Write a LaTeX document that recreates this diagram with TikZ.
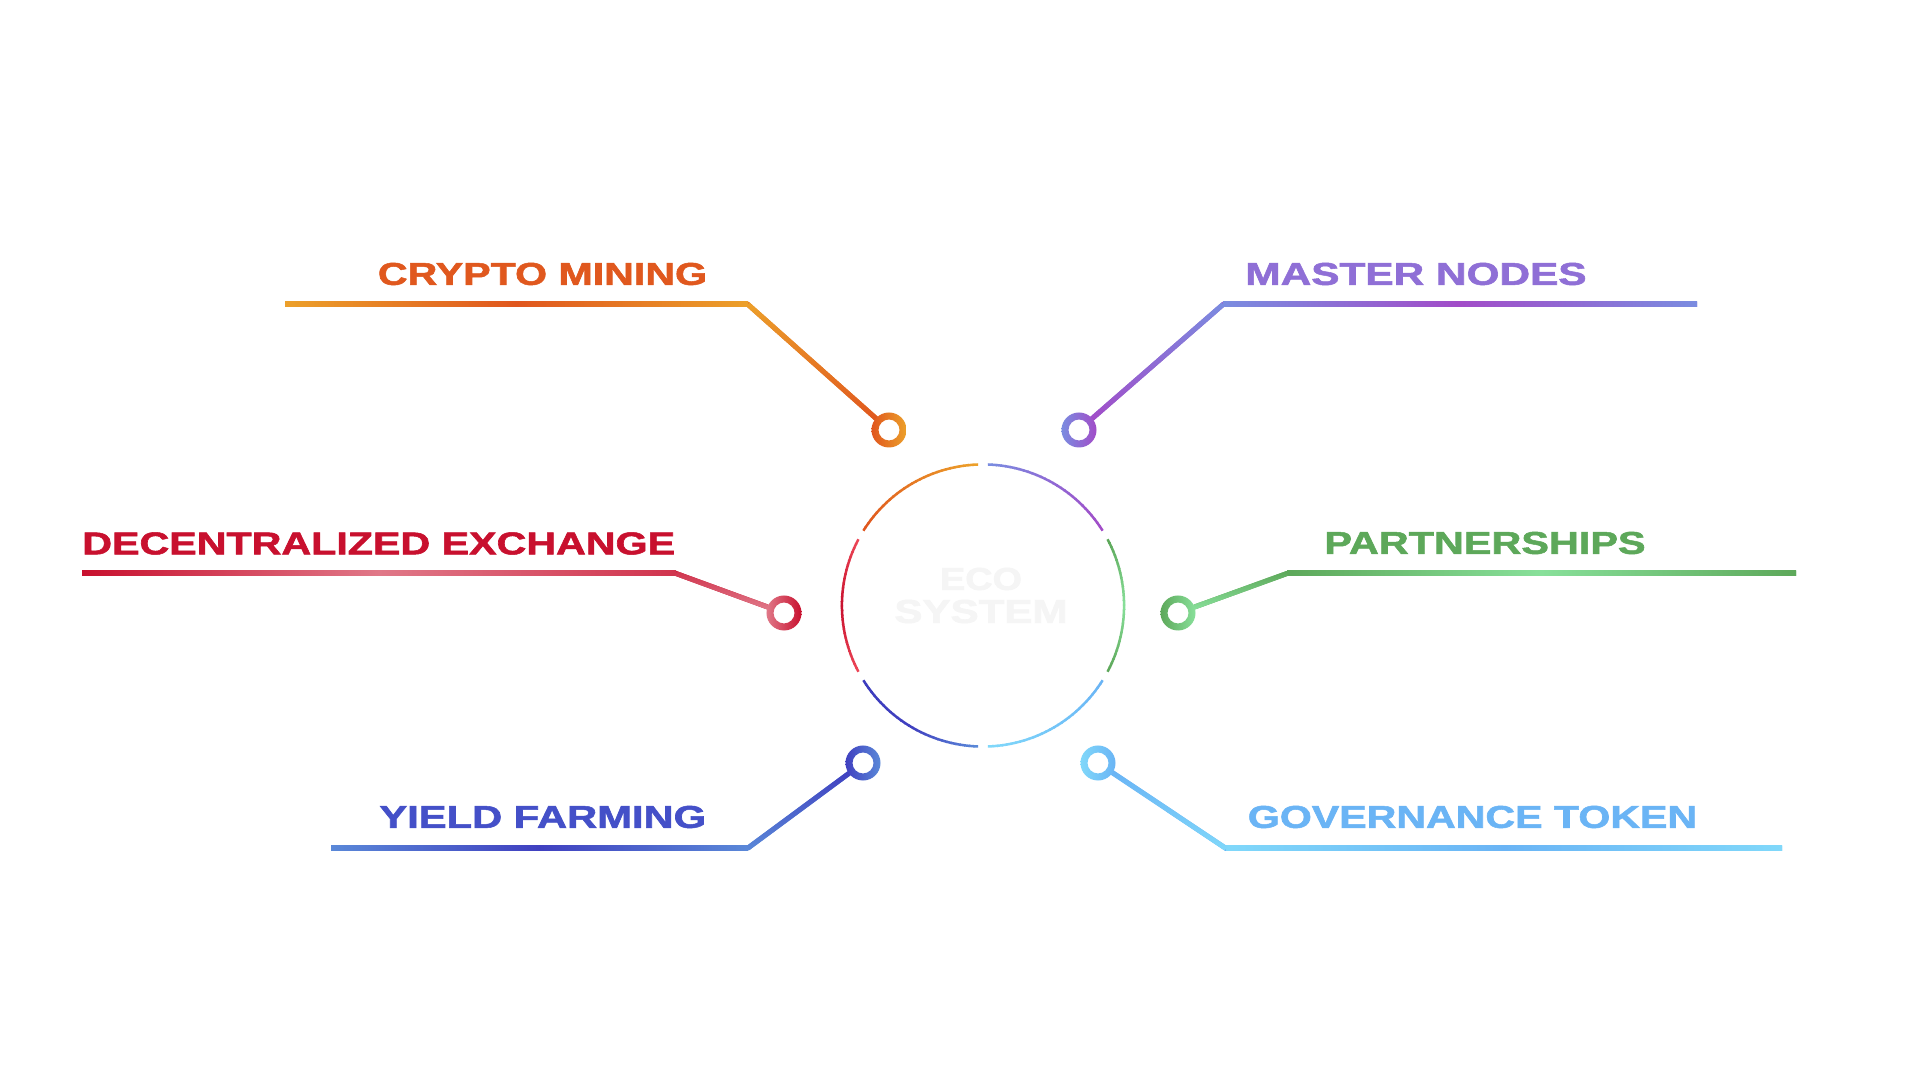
\documentclass[tikz,border=0pt]{standalone}
\usepackage{fontspec}
\setmainfont{Liberation Sans}
\newfontfamily\lblfont[BoldFeatures={FakeBold=1.6}]{Liberation Sans}
\usepackage{graphicx}
\usetikzlibrary{calc}

% palette
\definecolor{orA}{HTML}{ECA02A}
\definecolor{orM}{HTML}{E67A24}
\definecolor{orB}{HTML}{E0561E}
\definecolor{orT}{HTML}{E0581E}
\definecolor{puA}{HTML}{7A8CE0}
\definecolor{puM}{HTML}{9068D4}
\definecolor{puB}{HTML}{A24CC8}
\definecolor{puT}{HTML}{8F6FD6}
\definecolor{reA}{HTML}{C8102E}
\definecolor{reB}{HTML}{E07888}
\definecolor{reE}{HTML}{EC4455}
\definecolor{reT}{HTML}{C8102E}
\definecolor{grA}{HTML}{5DA85A}
\definecolor{grB}{HTML}{88E09A}
\definecolor{grT}{HTML}{5DA85A}
\definecolor{blA}{HTML}{5A88D8}
\definecolor{blB}{HTML}{4040C0}
\definecolor{blE}{HTML}{3C3CBE}
\definecolor{blT}{HTML}{4450C8}
\definecolor{cyA}{HTML}{80D8FA}
\definecolor{cyM}{HTML}{74C6F8}
\definecolor{cyB}{HTML}{6AB4F5}
\definecolor{cyT}{HTML}{6AB4F5}
\definecolor{ghost}{HTML}{F5F5F5}

\tikzset{
  conn/.style={line width=0.05cm, line join=miter},
  ringnode/.style={circle, minimum size=0.35cm, inner sep=0pt, outer sep=0pt, fill=white},
  lbl/.style={inner sep=0pt, outer sep=0pt, anchor=center},
  arcline/.style={line width=0.025cm},
}

\newcommand{\fitlabel}[3]{\resizebox{#1}{#2}{\lblfont\bfseries #3}}

% gradient arc: start angle, end angle, colour at start, middle, end
\newcommand{\gradarc}[5]{%
  \foreach \k in {0,...,29}{%
    \pgfmathsetmacro{\aa}{#1+(#2-#1)*\k/30}%
    \pgfmathsetmacro{\bb}{(\k<29) ? (#1+(#2-#1)*(\k+1)/30+0.4) : (#2)}%
    \pgfmathtruncatemacro{\pa}{min(100,200*\k/29)}%
    \pgfmathtruncatemacro{\pc}{max(0,200*\k/29-100)}%
    \colorlet{tmpc}{#4!\pa!#3}%
    \colorlet{arcc}{#5!\pc!tmpc}%
    \draw[arcline, arcc] ($(ctr)+(\aa:1.41cm)$) arc[start angle=\aa, end angle=\bb, radius=1.41cm];
  }%
}

% shaded diagonal segment from ring border to corner
\newcommand{\diagshade}[4]{%
  \coordinate (dA) at ($(#1)!0.17cm!(#2)$);
  \shade[top color=#3, bottom color=#4]
    ($(dA)!0.025cm!90:(#2)$) -- ($(#2)!0.025cm!-90:(dA)$) --
    ($(#2)!0.025cm!90:(dA)$) -- ($(dA)!0.025cm!-90:(#2)$) -- cycle;
}

\newcommand{\ringshade}[3]{%
  \shade[left color=#2, right color=#3, even odd rule]
    (#1.center) circle[radius=0.175cm] (#1.center) circle[radius=0.105cm];
}

\begin{document}
\begin{tikzpicture}[x=0.01cm, y=-0.01cm]
\useasboundingbox[fill=white] (0,0) rectangle (1920,1080);

% ---------- centre ----------
\coordinate (ctr) at (983,605.5);
\gradarc{92}{148}{orA}{orM}{orB}
\gradarc{32}{88}{puB}{puM}{puA}
\gradarc{-28}{28}{grA}{grB}{grA}
\gradarc{-88}{-32}{cyA}{cyM}{cyB}
\gradarc{212}{268}{blE}{blB}{blA}
\gradarc{152}{208}{reE}{reA}{reE}
\node[lbl, text=ghost] (eco) at (981,579) {\fitlabel{0.82cm}{0.22cm}{ECO}};
\node[lbl, text=ghost] (sys) at (981,611.5) {\fitlabel{1.73cm}{0.23cm}{SYSTEM}};

% ---------- ring nodes and corners ----------
\node[ringnode] (rcm) at (889,430) {};
\node[ringnode] (rmn) at (1079,430) {};
\node[ringnode] (rdx) at (784,613) {};
\node[ringnode] (rps) at (1178,613) {};
\node[ringnode] (ryf) at (863,763) {};
\node[ringnode] (rgt) at (1098,763) {};

\coordinate (kcm) at (748,304.5);  \coordinate (ecm) at (285,304.5);
\coordinate (kmn) at (1223,304.5); \coordinate (emn) at (1697,304.5);
\coordinate (kdx) at (676,573.5);  \coordinate (edx) at (82,573.5);
\coordinate (kps) at (1287,573.5); \coordinate (eps) at (1796,573.5);
\coordinate (kyf) at (748,848);    \coordinate (eyf) at (331,848);
\coordinate (kgt) at (1226,848.5); \coordinate (egt) at (1782,848.5);

% ---------- connectors ----------
\draw[conn, orM] (rcm) -- (kcm) -- (ecm);
\draw[conn, puM] (rmn) -- (kmn) -- (emn);
\draw[conn, reA] (rdx) -- (kdx) -- (edx);
\draw[conn, grA] (rps) -- (kps) -- (eps);
\draw[conn, blA] (ryf) -- (kyf) -- (eyf);
\draw[conn, cyB] (rgt) -- (kgt) -- (egt);

% gradient overlays (horizontal parts)
\shade[left color=orA, right color=orA, middle color=orB] ($(ecm)+(0,-2.5)$) rectangle ($(kcm)+(0,2.5)$);
\shade[left color=puA, right color=puA, middle color=puB] ($(kmn)+(0,-2.5)$) rectangle ($(emn)+(0,2.5)$);
\shade[left color=reA, right color=reA!85!white, middle color=reB] ($(edx)+(0,-2.5)$) rectangle ($(kdx)+(0,2.5)$);
\shade[left color=grA, right color=grA, middle color=grB] ($(kps)+(0,-2.5)$) rectangle ($(eps)+(0,2.5)$);
\shade[left color=blA, right color=blA, middle color=blB] ($(eyf)+(0,-2.5)$) rectangle ($(kyf)+(0,2.5)$);
\shade[left color=cyA, right color=cyA, middle color=cyB] ($(kgt)+(0,-2.5)$) rectangle ($(egt)+(0,2.5)$);

% gradient overlays (diagonal parts)
\diagshade{rcm}{kcm}{orA}{orB}
\diagshade{rmn}{kmn}{puA}{puB}
\diagshade{rdx}{kdx}{reA!85!white}{reB}
\diagshade{rps}{kps}{grA}{grB}
\diagshade{ryf}{kyf}{blB}{blA}
\diagshade{rgt}{kgt}{cyB}{cyA}

% rings
\ringshade{rcm}{orB}{orA}
\ringshade{rmn}{puA}{puB}
\ringshade{rdx}{reB}{reA}
\ringshade{rps}{grA}{grB}
\ringshade{ryf}{blB}{blA}
\ringshade{rgt}{cyA}{cyB}

% ---------- labels ----------
\node[lbl, text=orT] (tcm) at (542.5,274) {\fitlabel{3.29cm}{0.22cm}{CRYPTO MINING}};
\node[lbl, text=puT] (tmn) at (1416,274) {\fitlabel{3.41cm}{0.22cm}{MASTER NODES}};
\node[lbl, text=reT] (tdx) at (378.75,543.5) {\fitlabel{5.925cm}{0.22cm}{DECENTRALIZED EXCHANGE}};
\node[lbl, text=grT] (tps) at (1485,543) {\fitlabel{3.21cm}{0.22cm}{PARTNERSHIPS}};
\node[lbl, text=blT] (tyf) at (542.75,817) {\fitlabel{3.265cm}{0.22cm}{YIELD FARMING}};
\node[lbl, text=cyT] (tgt) at (1472.5,817) {\fitlabel{4.49cm}{0.22cm}{GOVERNANCE TOKEN}};
\end{tikzpicture}
\end{document}
